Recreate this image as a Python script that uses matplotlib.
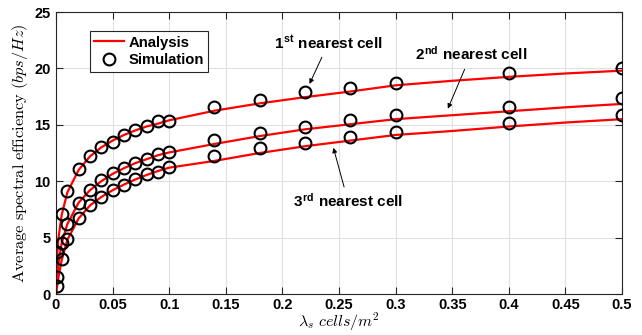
import matplotlib
matplotlib.use("Agg")
import matplotlib.pyplot as plt
from matplotlib.lines import Line2D

# math text: CM for the axis labels, bold sans for the superscripts
plt.rcParams['mathtext.fontset'] = 'custom'
plt.rcParams['mathtext.rm'] = 'cmr10'
plt.rcParams['mathtext.it'] = 'cmmi10'
plt.rcParams['mathtext.bf'] = 'Liberation Sans:bold'
plt.rcParams['mathtext.fallback'] = 'cm'
plt.rcParams['font.family'] = 'Liberation Sans'
plt.rcParams['axes.unicode_minus'] = False

# simulation points
sim_x = [0.001, 0.005, 0.01, 0.02, 0.03, 0.04, 0.05, 0.06, 0.07, 0.08, 0.09, 0.1,
         0.14, 0.18, 0.22, 0.26, 0.3, 0.4, 0.5]
sim_1st = [3.7, 7.1, 9.1, 11.1, 12.2, 13.05, 13.5, 14.1, 14.5, 14.9, 15.3, 15.35,
           16.55, 17.2, 17.9, 18.3, 18.75, 19.55, 20.0]
sim_2nd = [1.5, 4.5, 6.2, 8.1, 9.2, 10.1, 10.75, 11.2, 11.65, 12.0, 12.4, 12.6,
           13.65, 14.25, 14.8, 15.4, 15.85, 16.6, 17.4]
sim_3rd = [0.7, 3.1, 4.85, 6.7, 7.9, 8.6, 9.2, 9.7, 10.2, 10.6, 10.85, 11.25,
           12.2, 12.95, 13.4, 13.95, 14.4, 15.2, 15.85]

# analysis curves
ana_x = [0, 0.0005, 0.001, 0.002, 0.005, 0.01, 0.02, 0.03, 0.04, 0.05, 0.06, 0.07,
         0.08, 0.09, 0.1, 0.14, 0.18, 0.22, 0.26, 0.3, 0.35, 0.4, 0.45, 0.5]
ana_1st = [0, 2.0, 3.3, 4.8, 7.0, 9.0, 11.0, 12.2, 13.0, 13.6, 14.1, 14.5,
           14.85, 15.1, 15.4, 16.25, 16.9, 17.45, 17.95, 18.5, 18.9, 19.25, 19.55, 19.8]
ana_2nd = [0, 0.9, 1.5, 2.6, 4.5, 6.2, 8.1, 9.2, 10.0, 10.65, 11.15, 11.6,
           11.95, 12.3, 12.55, 13.3, 14.0, 14.6, 15.05, 15.5, 15.85, 16.2, 16.55, 16.85]
ana_3rd = [0, 0.4, 0.7, 1.4, 3.0, 4.8, 6.7, 7.85, 8.6, 9.2, 9.7, 10.15,
           10.55, 10.9, 11.2, 11.8, 12.5, 13.1, 13.6, 14.1, 14.45, 14.85, 15.2, 15.5]

x_ticks = [0, 0.05, 0.1, 0.15, 0.2, 0.25, 0.3, 0.35, 0.4, 0.45, 0.5]
x_tick_labels = ['0', '0.05', '0.1', '0.15', '0.2', '0.25', '0.3', '0.35', '0.4', '0.45', '0.5']
y_ticks = [0, 5, 10, 15, 20, 25]

red = '#ff0000'

fig = plt.figure(figsize=(6.42, 3.35), dpi=100)
ax = fig.add_axes([56/642, 1 - 294/335, 566/642, 282/335])

for ys in (ana_1st, ana_2nd, ana_3rd):
    ax.plot(ana_x, ys, color=red, lw=1.6, zorder=2)
for ys in (sim_1st, sim_2nd, sim_3rd):
    ax.plot(sim_x, ys, 'o', mfc='none', mec='black', mew=1.5, ms=8.5, zorder=3)

ax.set_xlim(0, 0.5)
ax.set_ylim(0, 25)
ax.set_xticks(x_ticks)
ax.set_xticklabels(x_tick_labels)
ax.set_yticks(y_ticks)
ax.tick_params(direction='in', top=True, right=True, length=5, width=0.8,
               labelsize=10.5, colors='#262626', pad=4)
ax.tick_params(axis='x', pad=3)
for lab in ax.get_xticklabels() + ax.get_yticklabels():
    lab.set_fontweight('bold')
    lab.set_color('black')
ax.grid(True, color='#e0e0e0', lw=0.8)
ax.set_axisbelow(True)
for sp in ax.spines.values():
    sp.set_color('#262626')
    sp.set_linewidth(0.8)

ax.set_xlabel(r'$\lambda_s\ cells/m^2$', fontsize=11.5, labelpad=-1)
ax.set_ylabel(r'$\mathrm{Average\ spectral\ efficiency}\ (bps/Hz)$', fontsize=11.8, labelpad=3)

# legend
handles = [Line2D([], [], color=red, lw=1.6),
           Line2D([], [], ls='none', marker='o', mfc='none', mec='black', mew=1.5, ms=8.5)]
leg = ax.legend(handles, ['Analysis', 'Simulation'], loc='upper left',
                bbox_to_anchor=(0.06, 0.932), fancybox=False, framealpha=1,
                edgecolor='#262626', prop={'weight': 'bold', 'size': 10.7},
                handlelength=2.0, handletextpad=0.3, borderpad=0.3, labelspacing=0.25,
                borderaxespad=0)
leg.get_frame().set_linewidth(0.8)

# annotations
arrow = dict(arrowstyle='-|>', color='black', lw=0.7, mutation_scale=7)
ax.annotate(r'1$^{\mathbf{st}}$ nearest cell', xy=(0.2229, 18.4), xytext=(0.2407, 22.25),
            ha='center', va='center', fontsize=11, fontweight='bold', arrowprops=arrow)
ax.annotate(r'2$^{\mathbf{nd}}$ nearest cell', xy=(0.3452, 16.2), xytext=(0.3664, 21.2),
            ha='center', va='center', fontsize=11, fontweight='bold', arrowprops=arrow)
ax.annotate(r'3$^{\mathbf{rd}}$ nearest cell', xy=(0.2444, 13.2), xytext=(0.258, 8.2),
            ha='center', va='center', fontsize=11, fontweight='bold', arrowprops=arrow)

fig.savefig('out.png', dpi=100)
